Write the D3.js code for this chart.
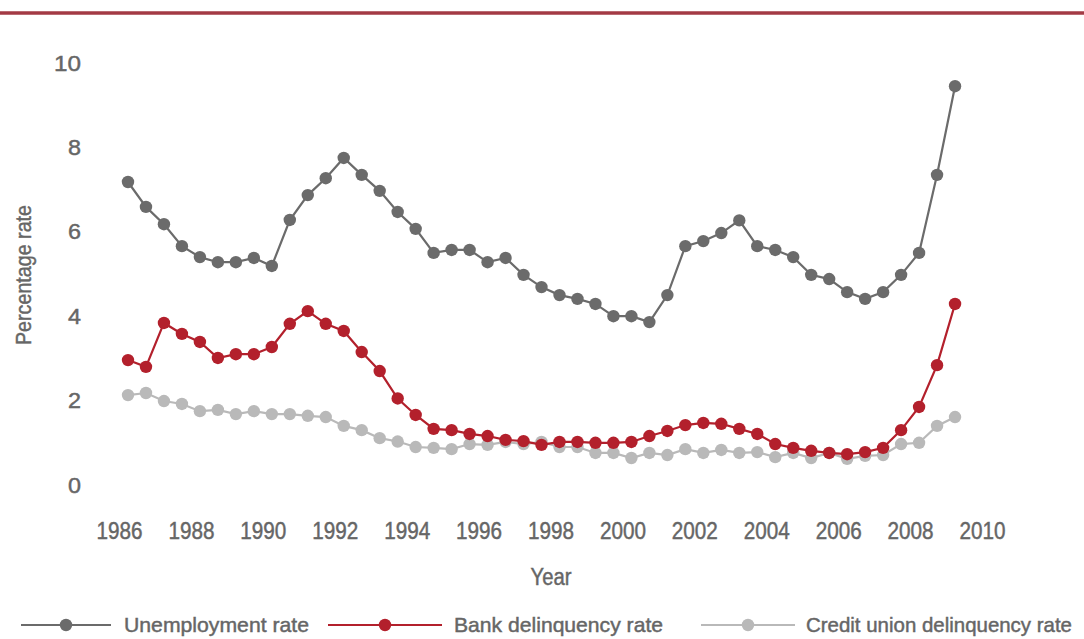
<!DOCTYPE html>
<html>
<head>
<meta charset="utf-8">
<script src="https://cdn.jsdelivr.net/npm/d3@7"></script>
<style>
  html, body { margin: 0; padding: 0; background: #ffffff; }
  svg { display: block; }
  text {
    font-family: "Liberation Sans", Arial, sans-serif;
    fill: #666666;
    stroke: #666666;
    stroke-width: 0.45px;
  }
</style>
</head>
<body>
<svg id="chart" width="1084" height="639"></svg>
<script>
// Half-yearly observations, 1986 to 2009
const periods = d3.range(47).map(i => 1986.25 + i * 0.5);

const unemploymentRate = [
  7.18, 6.59, 6.18, 5.66, 5.40, 5.28, 5.28, 5.38, 5.19, 6.28,
  6.87, 7.27, 7.75, 7.35, 6.97, 6.47, 6.07, 5.50, 5.57, 5.57,
  5.28, 5.38, 4.98, 4.69, 4.50, 4.41, 4.29, 4.00, 4.00, 3.86,
  4.50, 5.66, 5.78, 5.97, 6.27, 5.66, 5.57, 5.40, 4.98, 4.88,
  4.57, 4.41, 4.57, 4.98, 5.50, 7.35, 9.45
];

const bankDelinquencyRate = [
  2.96, 2.80, 3.84, 3.58, 3.39, 3.01, 3.10, 3.10, 3.27, 3.82,
  4.12, 3.82, 3.65, 3.15, 2.70, 2.05, 1.66, 1.33, 1.30, 1.21,
  1.16, 1.07, 1.04, 0.95, 1.02, 1.02, 1.00, 1.00, 1.02, 1.16,
  1.28, 1.42, 1.47, 1.45, 1.33, 1.21, 0.97, 0.88, 0.81, 0.76,
  0.73, 0.78, 0.88, 1.30, 1.85, 2.84, 4.29
];

const creditUnionDelinquencyRate = [
  2.13, 2.18, 1.99, 1.92, 1.75, 1.78, 1.68, 1.75, 1.68, 1.68,
  1.64, 1.61, 1.40, 1.30, 1.11, 1.03, 0.90, 0.88, 0.85, 0.97,
  0.95, 1.02, 0.97, 1.02, 0.90, 0.90, 0.76, 0.76, 0.64, 0.76,
  0.71, 0.85, 0.76, 0.83, 0.76, 0.78, 0.66, 0.76, 0.64, 0.76,
  0.62, 0.69, 0.71, 0.97, 1.00, 1.40, 1.61
];

const xTicks = d3.range(1986, 2011, 2);
const yTicks = [0, 2, 4, 6, 8, 10];

const seriesNames = ["Unemployment rate", "Bank delinquency rate", "Credit union delinquency rate"];
const seriesColors = ["#6b6b6b", "#b3202c", "#b9b9b9"];

const svg = d3.select("#chart");

// Squeeze a text run to a given width so it reads as a condensed face
function condense(sel, width) {
  sel.attr("textLength", width).attr("lengthAdjust", "spacingAndGlyphs");
}

// Header rule
svg.append("line")
  .attr("x1", 0).attr("x2", 1084)
  .attr("y1", 13).attr("y2", 13)
  .attr("stroke", "#a33a44").attr("stroke-width", 3.5);

const x = d3.scaleLinear().domain([1986, 2010]).range([119, 982]);
const y = d3.scaleLinear().domain([0, 10]).range([485, 63]);

// Axes (labels only, no domain or tick lines)
const xAxis = svg.append("g")
  .attr("transform", "translate(0,523)")
  .call(d3.axisBottom(x).tickValues(xTicks).tickFormat(d3.format("d")).tickSize(0));
xAxis.select(".domain").remove();
xAxis.selectAll("text")
  .attr("dy", "0.35em").attr("y", 8)
  .style("font-size", "23px")
  .call(condense, 46);

const yAxis = svg.append("g")
  .attr("transform", "translate(81,0)")
  .call(d3.axisLeft(y).tickValues(yTicks).tickSize(0));
yAxis.select(".domain").remove();
yAxis.selectAll("text")
  .attr("x", 0)
  .style("font-size", "22px")
  .each(function (d) { d3.select(this).call(condense, d >= 10 ? 27 : 13); });

svg.append("text")
  .attr("x", 551).attr("y", 577)
  .attr("text-anchor", "middle").attr("dy", "0.35em")
  .style("font-size", "23px")
  .call(condense, 41)
  .text("Year");

svg.append("text")
  .attr("transform", "translate(23,275) rotate(-90)")
  .attr("text-anchor", "middle").attr("dy", "0.35em")
  .style("font-size", "22px")
  .call(condense, 140)
  .text("Percentage rate");

const series = [unemploymentRate, bankDelinquencyRate, creditUnionDelinquencyRate];
const line = d3.line().x(d => x(d[0])).y(d => y(d[1]));

// Draw back to front: credit union, bank, unemployment
[2, 1, 0].forEach(k => {
  const pts = periods.map((p, i) => [p, series[k][i]]);
  const g = svg.append("g");
  g.append("path")
    .datum(pts)
    .attr("fill", "none")
    .attr("stroke", seriesColors[k])
    .attr("stroke-width", 2.2)
    .attr("d", line);
  g.selectAll("circle")
    .data(pts)
    .join("circle")
    .attr("cx", d => x(d[0]))
    .attr("cy", d => y(d[1]))
    .attr("r", 6.2)
    .attr("fill", seriesColors[k]);
});

// Legend
const legendY = 625;
const legendItems = [
  { x1: 21, x2: 111, tx: 124, w: 185 },
  { x1: 328, x2: 442, tx: 454, w: 209 },
  { x1: 701, x2: 795, tx: 806, w: 266 }
];
legendItems.forEach((it, k) => {
  const g = svg.append("g");
  g.append("line")
    .attr("x1", it.x1).attr("x2", it.x2)
    .attr("y1", legendY).attr("y2", legendY)
    .attr("stroke", seriesColors[k]).attr("stroke-width", 2.2);
  g.append("circle")
    .attr("cx", (it.x1 + it.x2) / 2).attr("cy", legendY)
    .attr("r", 6.2).attr("fill", seriesColors[k]);
  g.append("text")
    .attr("x", it.tx).attr("y", legendY)
    .attr("dy", "0.35em")
    .style("font-size", "21px")
    .call(condense, it.w)
    .text(seriesNames[k]);
});
</script>
</body>
</html>
